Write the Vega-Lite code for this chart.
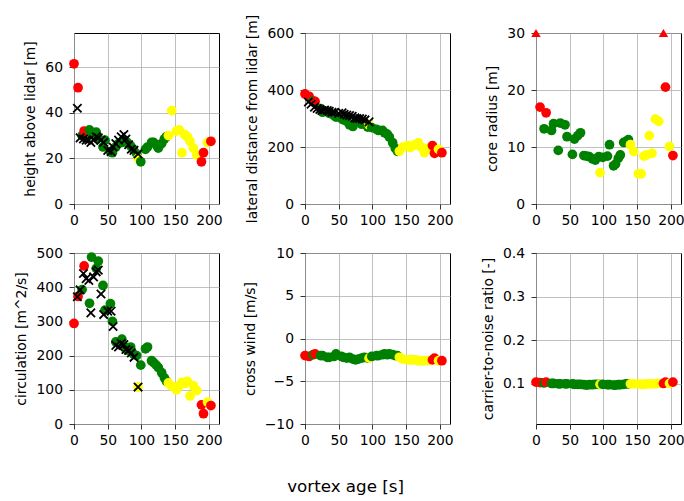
{
  "$schema": "https://vega.github.io/schema/vega-lite/v6.json",
  "padding": {"left": 14, "top": 13, "right": 0, "bottom": 5},
  "background": "white",
  "datasets": {
    "main": [
      {"t": 0, "q": "poor", "height": 61.5, "lateral": 386, "radius": 30, "capped": true, "circ": 294, "wind": -2.0, "cnr": 0.104},
      {"t": 6, "q": "poor", "height": 51, "lateral": 378, "radius": 17.0, "capped": false, "circ": 373, "wind": -2.1, "cnr": 0.103},
      {"t": 12, "q": "good", "height": 30, "lateral": 362, "radius": 13.2, "capped": false, "circ": 393, "wind": -1.9, "cnr": 0.102},
      {"t": 15, "q": "poor", "height": 32, "lateral": 360, "radius": 16.0, "capped": false, "circ": 462, "wind": -1.8, "cnr": 0.104},
      {"t": 23, "q": "good", "height": 32.5, "lateral": 335, "radius": 12.9, "capped": false, "circ": 353, "wind": -2.0, "cnr": 0.101},
      {"t": 26, "q": "good", "height": 30.5, "lateral": 322, "radius": 14.1, "capped": false, "circ": 488, "wind": -2.0, "cnr": 0.101},
      {"t": 33, "q": "good", "height": 31.5, "lateral": 325, "radius": 9.4, "capped": false, "circ": 455, "wind": -2.2, "cnr": 0.100},
      {"t": 36, "q": "good", "height": 29, "lateral": 318, "radius": 14.2, "capped": false, "circ": 476, "wind": -2.2, "cnr": 0.100},
      {"t": 43, "q": "good", "height": 25, "lateral": 310, "radius": 13.9, "capped": false, "circ": 405, "wind": -2.1, "cnr": 0.100},
      {"t": 46, "q": "good", "height": 28, "lateral": 305, "radius": 11.8, "capped": false, "circ": 333, "wind": -1.8, "cnr": 0.100},
      {"t": 54, "q": "good", "height": 23, "lateral": 300, "radius": 8.7, "capped": false, "circ": 352, "wind": -2.1, "cnr": 0.100},
      {"t": 57, "q": "good", "height": 22.5, "lateral": 295, "radius": 11.4, "capped": false, "circ": 300, "wind": -2.2, "cnr": 0.099},
      {"t": 62, "q": "good", "height": 25, "lateral": 290, "radius": 12.0, "capped": false, "circ": 240, "wind": -2.3, "cnr": 0.099},
      {"t": 66, "q": "good", "height": 26.5, "lateral": 278, "radius": 12.5, "capped": false, "circ": 236, "wind": -2.2, "cnr": 0.099},
      {"t": 71, "q": "good", "height": 27, "lateral": 272, "radius": 8.5, "capped": false, "circ": 248, "wind": -2.4, "cnr": 0.098},
      {"t": 75, "q": "good", "height": 28, "lateral": 285, "radius": 8.4, "capped": false, "circ": 226, "wind": -2.5, "cnr": 0.097},
      {"t": 79, "q": "good", "height": 27, "lateral": 290, "radius": 8.3, "capped": false, "circ": 216, "wind": -2.4, "cnr": 0.098},
      {"t": 84, "q": "good", "height": 25.5, "lateral": 280, "radius": 7.9, "capped": false, "circ": 225, "wind": -2.3, "cnr": 0.098},
      {"t": 88, "q": "good", "height": 24, "lateral": 285, "radius": 7.7, "capped": false, "circ": 205, "wind": -2.2, "cnr": 0.099},
      {"t": 93, "q": "good", "height": 22, "lateral": 270, "radius": 8.3, "capped": false, "circ": 200, "wind": -2.3, "cnr": 0.099},
      {"t": 95, "q": "fair", "height": 20, "lateral": 278, "radius": 5.5, "capped": false, "circ": 108, "wind": -2.3, "cnr": 0.099},
      {"t": 99, "q": "good", "height": 18.5, "lateral": 268, "radius": 8.2, "capped": false, "circ": 172, "wind": -2.1, "cnr": 0.099},
      {"t": 106, "q": "good", "height": 24, "lateral": 262, "radius": 8.4, "capped": false, "circ": 220, "wind": -2.0, "cnr": 0.098},
      {"t": 109, "q": "good", "height": 25, "lateral": 258, "radius": 10.4, "capped": false, "circ": 225, "wind": -2.0, "cnr": 0.098},
      {"t": 115, "q": "good", "height": 27, "lateral": 258, "radius": 6.7, "capped": false, "circ": 185, "wind": -1.9, "cnr": 0.097},
      {"t": 118, "q": "good", "height": 27, "lateral": 250, "radius": 7.0, "capped": false, "circ": 180, "wind": -1.8, "cnr": 0.097},
      {"t": 122, "q": "good", "height": 26, "lateral": 245, "radius": 8.0, "capped": false, "circ": 172, "wind": -1.9, "cnr": 0.098},
      {"t": 125, "q": "good", "height": 24.5, "lateral": 235, "radius": 8.6, "capped": false, "circ": 165, "wind": -1.8, "cnr": 0.098},
      {"t": 130, "q": "good", "height": 26.5, "lateral": 215, "radius": 10.8, "capped": false, "circ": 150, "wind": -1.9, "cnr": 0.099},
      {"t": 134, "q": "good", "height": 28.5, "lateral": 195, "radius": 11.0, "capped": false, "circ": 135, "wind": -2.0, "cnr": 0.100},
      {"t": 137, "q": "good", "height": 29.5, "lateral": 185, "radius": 11.3, "capped": false, "circ": 125, "wind": -2.0, "cnr": 0.100},
      {"t": 140, "q": "fair", "height": 30, "lateral": 185, "radius": 10.4, "capped": false, "circ": 120, "wind": -2.2, "cnr": 0.100},
      {"t": 145, "q": "fair", "height": 41, "lateral": 200, "radius": 9.2, "capped": false, "circ": 110, "wind": -2.4, "cnr": 0.100},
      {"t": 152, "q": "fair", "height": 32, "lateral": 205, "radius": 5.3, "capped": false, "circ": 100, "wind": -2.5, "cnr": 0.100},
      {"t": 156, "q": "fair", "height": 32.5, "lateral": 198, "radius": 5.3, "capped": false, "circ": 112, "wind": -2.5, "cnr": 0.099},
      {"t": 160, "q": "fair", "height": 22.5, "lateral": 205, "radius": 8.4, "capped": false, "circ": 122, "wind": -2.5, "cnr": 0.099},
      {"t": 164, "q": "fair", "height": 30.5, "lateral": 208, "radius": 8.6, "capped": false, "circ": 118, "wind": -2.5, "cnr": 0.100},
      {"t": 168, "q": "fair", "height": 29.5, "lateral": 215, "radius": 12.0, "capped": false, "circ": 125, "wind": -2.6, "cnr": 0.100},
      {"t": 172, "q": "fair", "height": 27.5, "lateral": 200, "radius": 8.9, "capped": false, "circ": 82, "wind": -2.6, "cnr": 0.100},
      {"t": 177, "q": "fair", "height": 24.5, "lateral": 180, "radius": 14.9, "capped": false, "circ": 112, "wind": -2.6, "cnr": 0.100},
      {"t": 182, "q": "fair", "height": 21.5, "lateral": 195, "radius": 14.5, "capped": false, "circ": 98, "wind": -2.6, "cnr": 0.101},
      {"t": 189, "q": "poor", "height": 18.5, "lateral": 205, "radius": 30, "capped": true, "circ": 56, "wind": -2.5, "cnr": 0.101},
      {"t": 192, "q": "poor", "height": 22.5, "lateral": 178, "radius": 20.5, "capped": false, "circ": 30, "wind": -2.3, "cnr": 0.104},
      {"t": 198, "q": "fair", "height": 27, "lateral": 192, "radius": 10.1, "capped": false, "circ": 64, "wind": -2.6, "cnr": 0.101},
      {"t": 203, "q": "poor", "height": 27.5, "lateral": 180, "radius": 8.5, "capped": false, "circ": 54, "wind": -2.6, "cnr": 0.104}
    ],
    "ref": [
      {"t": 5, "height": 42, "lateral": 358, "circ": 372},
      {"t": 9, "height": 29, "lateral": 350, "circ": 392},
      {"t": 14, "height": 28.5, "lateral": 340, "circ": 440},
      {"t": 18, "height": 28, "lateral": 335, "circ": 425},
      {"t": 22, "height": 28, "lateral": 332, "circ": 420},
      {"t": 25, "height": 27, "lateral": 328, "circ": 325},
      {"t": 29, "height": 28, "lateral": 330, "circ": 430},
      {"t": 33, "height": 29.5, "lateral": 328, "circ": 445},
      {"t": 36, "height": 29, "lateral": 325, "circ": 450},
      {"t": 40, "height": 28, "lateral": 322, "circ": 380},
      {"t": 44, "height": 27, "lateral": 322, "circ": 320},
      {"t": 50, "height": 23.5, "lateral": 318, "circ": 330},
      {"t": 55, "height": 23, "lateral": 320, "circ": 330},
      {"t": 58, "height": 25, "lateral": 315, "circ": 285},
      {"t": 62, "height": 26.5, "lateral": 312, "circ": 230},
      {"t": 66, "height": 28, "lateral": 310, "circ": 225},
      {"t": 70, "height": 29.5, "lateral": 308, "circ": 235},
      {"t": 74, "height": 30.5, "lateral": 302, "circ": 232},
      {"t": 77, "height": 28.5, "lateral": 300, "circ": 218},
      {"t": 81, "height": 26, "lateral": 300, "circ": 215},
      {"t": 85, "height": 24, "lateral": 298, "circ": 208},
      {"t": 89, "height": 23.5, "lateral": 295, "circ": 195},
      {"t": 95, "height": 22, "lateral": 288, "circ": 108}
    ]
  },
  "title": {"text": "vortex age [s]", "orient": "bottom", "anchor": "middle", "fontSize": 16.7, "fontWeight": "normal", "font": "DejaVu Sans", "color": "black", "offset": 32, "dx": -4},
  "columns": 3,
  "bounds": "flush",
  "spacing": {"row": 49, "column": 86},
  "concat": [
    {
      "width": 145, "height": 171,
      "encoding": {
        "x": {"field": "t", "type": "quantitative", "scale": {"domain": [0, 215], "nice": false}, "axis": {"values": [0, 50, 100, 150, 200], "title": null, "labelOverlap": false, "labelFlush": false}},
        "y": {"field": "height", "type": "quantitative", "scale": {"domain": [0, 75], "nice": false}, "axis": {"values": [0, 20, 40, 60], "title": "height above lidar [m]", "labelOverlap": false, "labelFlush": false}}
      },
      "layer": [
        {"data": {"name": "main"}, "mark": {"type": "circle", "size": 95, "opacity": 1},
         "encoding": {"color": {"field": "q", "type": "nominal", "scale": {"domain": ["good", "fair", "poor"], "range": ["#008000", "#ffff00", "#ff0000"]}, "legend": null}}},
        {"data": {"name": "ref"}, "mark": {"type": "point", "shape": "M-1,-1L1,1M-1,1L1,-1", "size": 70, "filled": false, "stroke": "black", "strokeWidth": 1.8, "opacity": 1}}
      ]
    },
    {
      "width": 145, "height": 171,
      "encoding": {
        "x": {"field": "t", "type": "quantitative", "scale": {"domain": [0, 215], "nice": false}, "axis": {"values": [0, 50, 100, 150, 200], "title": null, "labelOverlap": false, "labelFlush": false}},
        "y": {"field": "lateral", "type": "quantitative", "scale": {"domain": [0, 600], "nice": false}, "axis": {"values": [0, 200, 400, 600], "title": "lateral distance from lidar [m]", "labelOverlap": false, "labelFlush": false}}
      },
      "layer": [
        {"data": {"name": "main"}, "mark": {"type": "circle", "size": 95, "opacity": 1},
         "encoding": {"color": {"field": "q", "type": "nominal", "scale": {"domain": ["good", "fair", "poor"], "range": ["#008000", "#ffff00", "#ff0000"]}, "legend": null}}},
        {"data": {"name": "ref"}, "mark": {"type": "point", "shape": "M-1,-1L1,1M-1,1L1,-1", "size": 70, "filled": false, "stroke": "black", "strokeWidth": 1.8, "opacity": 1}}
      ]
    },
    {
      "width": 145, "height": 171,
      "encoding": {
        "x": {"field": "t", "type": "quantitative", "scale": {"domain": [0, 215], "nice": false}, "axis": {"values": [0, 50, 100, 150, 200], "title": null, "labelOverlap": false, "labelFlush": false}},
        "y": {"field": "radius", "type": "quantitative", "scale": {"domain": [0, 30], "nice": false}, "axis": {"values": [0, 10, 20, 30], "title": "core radius [m]", "labelOverlap": false, "labelFlush": false}}
      },
      "layer": [
        {"data": {"name": "main"}, "transform": [{"filter": "!datum.capped"}], "mark": {"type": "circle", "size": 95, "opacity": 1},
         "encoding": {"color": {"field": "q", "type": "nominal", "scale": {"domain": ["good", "fair", "poor"], "range": ["#008000", "#ffff00", "#ff0000"]}, "legend": null}}},
        {"data": {"name": "main"}, "transform": [{"filter": "datum.capped"}], "mark": {"type": "point", "shape": "triangle-up", "size": 90, "filled": true, "color": "#ff0000", "opacity": 1}}
      ]
    },
    {
      "width": 145, "height": 171,
      "encoding": {
        "x": {"field": "t", "type": "quantitative", "scale": {"domain": [0, 215], "nice": false}, "axis": {"values": [0, 50, 100, 150, 200], "title": null, "labelOverlap": false, "labelFlush": false}},
        "y": {"field": "circ", "type": "quantitative", "scale": {"domain": [0, 500], "nice": false}, "axis": {"values": [0, 100, 200, 300, 400, 500], "title": "circulation [m^2/s]", "labelOverlap": false, "labelFlush": false}}
      },
      "layer": [
        {"data": {"name": "main"}, "mark": {"type": "circle", "size": 95, "opacity": 1},
         "encoding": {"color": {"field": "q", "type": "nominal", "scale": {"domain": ["good", "fair", "poor"], "range": ["#008000", "#ffff00", "#ff0000"]}, "legend": null}}},
        {"data": {"name": "ref"}, "mark": {"type": "point", "shape": "M-1,-1L1,1M-1,1L1,-1", "size": 70, "filled": false, "stroke": "black", "strokeWidth": 1.8, "opacity": 1}}
      ]
    },
    {
      "width": 145, "height": 171,
      "data": {"name": "main"},
      "mark": {"type": "circle", "size": 95, "opacity": 1},
      "encoding": {
        "x": {"field": "t", "type": "quantitative", "scale": {"domain": [0, 215], "nice": false}, "axis": {"values": [0, 50, 100, 150, 200], "title": null, "labelOverlap": false, "labelFlush": false}},
        "y": {"field": "wind", "type": "quantitative", "scale": {"domain": [-10, 10], "nice": false}, "axis": {"values": [-10, -5, 0, 5, 10], "title": "cross wind [m/s]", "labelOverlap": false, "labelFlush": false}},
        "color": {"field": "q", "type": "nominal", "scale": {"domain": ["good", "fair", "poor"], "range": ["#008000", "#ffff00", "#ff0000"]}, "legend": null}
      }
    },
    {
      "width": 145, "height": 171,
      "data": {"name": "main"},
      "mark": {"type": "circle", "size": 95, "opacity": 1},
      "encoding": {
        "x": {"field": "t", "type": "quantitative", "scale": {"domain": [0, 215], "nice": false}, "axis": {"values": [0, 50, 100, 150, 200], "title": null, "labelOverlap": false, "labelFlush": false}},
        "y": {"field": "cnr", "type": "quantitative", "scale": {"domain": [0.008, 0.4], "nice": false, "zero": false}, "axis": {"values": [0.1, 0.2, 0.3, 0.4], "format": ".1f", "title": "carrier-to-noise ratio [-]", "labelOverlap": false, "labelFlush": false}},
        "color": {"field": "q", "type": "nominal", "scale": {"domain": ["good", "fair", "poor"], "range": ["#008000", "#ffff00", "#ff0000"]}, "legend": null}
      }
    }
  ],
  "resolve": {"scale": {"y": "independent", "x": "independent"}},
  "config": {
    "font": "DejaVu Sans",
    "view": {"stroke": "black", "strokeWidth": 1},
    "axis": {"domain": false, "grid": true, "gridColor": "#b0b0b0", "gridWidth": 0.8, "tickColor": "black", "tickSize": 5, "tickWidth": 0.8, "labelFontSize": 13.9, "labelColor": "black", "labelFont": "DejaVu Sans", "titleFontSize": 13.9, "titleFontWeight": "normal", "titleColor": "black", "titleFont": "DejaVu Sans", "labelPadding": 4, "titlePadding": 6, "zindex": 1, "labelFlush": false, "labelOverlap": false},
    "axisY": {"labelPadding": 6.5, "titlePadding": 7}
  }
}
